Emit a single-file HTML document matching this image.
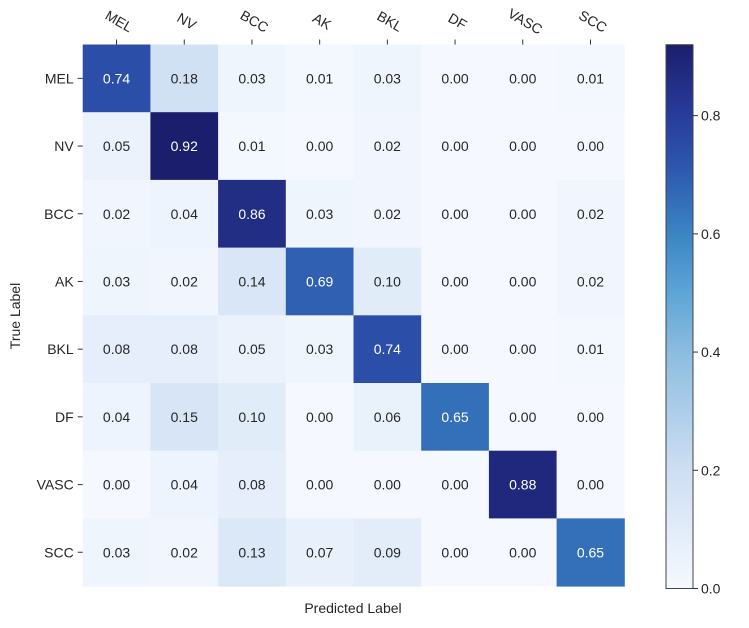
<!DOCTYPE html>
<html><head><meta charset="utf-8"><style>
body{margin:0;background:#fff;width:749px;height:623px;overflow:hidden;font-family:"Liberation Sans","DejaVu Sans",sans-serif}
svg text{font-family:"Liberation Sans","DejaVu Sans",sans-serif}
</style></head><body>
<svg id="chart" width="749" height="623" xmlns="http://www.w3.org/2000/svg"></svg>
<script>
const classes = ["MEL","NV","BCC","AK","BKL","DF","VASC","SCC"];
const row0 = [0.74,0.18,0.03,0.01,0.03,0.00,0.00,0.01];
const row1 = [0.05,0.92,0.01,0.00,0.02,0.00,0.00,0.00];
const row2 = [0.02,0.04,0.86,0.03,0.02,0.00,0.00,0.02];
const row3 = [0.03,0.02,0.14,0.69,0.10,0.00,0.00,0.02];
const row4 = [0.08,0.08,0.05,0.03,0.74,0.00,0.00,0.01];
const row5 = [0.04,0.15,0.10,0.00,0.06,0.65,0.00,0.00];
const row6 = [0.00,0.04,0.08,0.00,0.00,0.00,0.88,0.00];
const row7 = [0.03,0.02,0.13,0.07,0.09,0.00,0.00,0.65];
const matrix = [row0,row1,row2,row3,row4,row5,row6,row7];
const cbTicks = [0.0,0.2,0.4,0.6,0.8];
const vmax = 0.92;

const NS="http://www.w3.org/2000/svg";
const svg=document.getElementById('chart');
function mk(tag,attrs,parent){const e=document.createElementNS(NS,tag);for(const k in attrs)e.setAttribute(k,attrs[k]);(parent||svg).appendChild(e);return e;}
const L=82.7,T=44.5,CW=67.7;
const xPos=i=>L+i*CW, yPos=i=>T+i*CW;
const stops=[[0,[245,249,255]],[0.22,[205,222,243]],[0.43,[141,189,224]],[0.55,[91,163,214]],[0.65,[59,133,196]],[0.78,[44,85,173]],[0.87,[40,60,156]],[1,[27,30,108]]];
function color(v){let t=Math.max(0,Math.min(1,v/vmax));for(let i=1;i<stops.length;i++){if(t<=stops[i][0]){const a=stops[i-1],b=stops[i];const f=(t-a[0])/(b[0]-a[0]);return 'rgb('+a[1].map((c,k)=>Math.round(c+(b[1][k]-c)*f)).join(',')+')';}}return 'rgb(27,30,108)';}

matrix.forEach((row,r)=>row.forEach((v,c)=>{
  const rc=mk('rect',{x:xPos(c),y:yPos(r),width:CW+0.5,height:CW+0.5,fill:color(v)});
  
  
  const tx=mk('text',{x:xPos(c)+CW/2,y:yPos(r)+CW/2+5,'text-anchor':'middle','font-size':14,fill:v>vmax/2?'#fff':'#262626'});
  tx.textContent=v.toFixed(2);
  
  
}));
classes.forEach((cl,i)=>{
  const cy=yPos(i)+CW/2;
  mk('line',{x1:xPos(0)-5,x2:xPos(0),y1:cy,y2:cy,stroke:'#333'});
  const t=mk('text',{x:xPos(0)-9,y:cy+5,'text-anchor':'end','font-size':14,fill:'#262626'});t.textContent=cl;
  
  
  const cx=xPos(i)+CW/2;
  mk('line',{x1:cx,x2:cx,y1:T-5,y2:T,stroke:'#333'});
  const u=mk('text',{x:0,y:0,'text-anchor':'middle','font-size':14,fill:'#262626',transform:'translate('+cx+','+(T-19)+') rotate(30)'});u.textContent=cl;
  
  
});
let t1=mk('text',{x:0,y:0,'text-anchor':'middle','font-size':14,fill:'#262626',transform:'translate(20,316) rotate(-90)'});t1.textContent='True Label';


let t2=mk('text',{x:353,y:613,'text-anchor':'middle','font-size':14,fill:'#262626'});t2.textContent='Predicted Label';


const CBX=666,CBW=27,CBT=44.7,CBB=588.5;
const cbY=v=>CBB-(v/vmax)*(CBB-CBT);
const defs=mk('defs',{});const g=mk('linearGradient',{id:'cbg',x1:0,y1:1,x2:0,y2:0},defs);
stops.forEach(s=>mk('stop',{offset:s[0],'stop-color':'rgb('+s[1].join(',')+')'},g));
const cb=mk('rect',{x:CBX,y:CBT,width:CBW,height:CBB-CBT,fill:'url(#cbg)',stroke:'#444','stroke-width':1});


cbTicks.forEach(v=>{const y=cbY(v);mk('line',{x1:CBX+CBW,x2:CBX+CBW+5,y1:y,y2:y,stroke:'#333'});
  const t=mk('text',{x:CBX+CBW+8,y:y+5,'font-size':14,fill:'#262626'});t.textContent=v.toFixed(1);
  
  });
</script>
</body></html>
